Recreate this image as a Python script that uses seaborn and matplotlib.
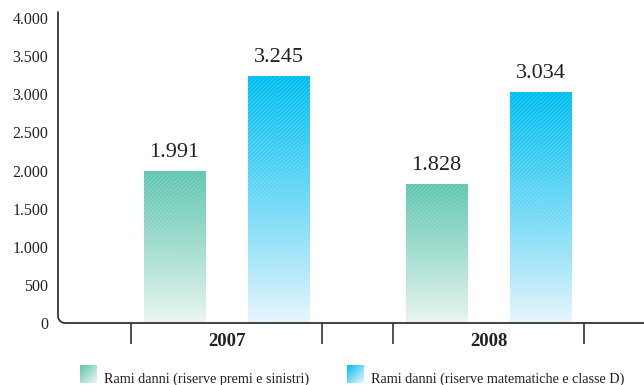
import numpy as np
import pandas as pd
import matplotlib
matplotlib.use("Agg")
import matplotlib.pyplot as plt
from matplotlib.lines import Line2D
import seaborn as sns

# Data
anni = ["2007", "2008"]
riserve_premi_sinistri = [1991, 1828]
riserve_matematiche_d = [3245, 3034]
serie = ["Rami danni (riserve premi e sinistri)",
         "Rami danni (riserve matematiche e classe D)"]
y_ticks = [0, 500, 1000, 1500, 2000, 2500, 3000, 3500, 4000]

df = pd.DataFrame({
    "anno": anni * 2,
    "valore": riserve_premi_sinistri + riserve_matematiche_d,
    "ramo": [serie[0]] * len(anni) + [serie[1]] * len(anni),
})

def fmt(v):
    return f"{v:,.0f}".replace(",", ".")

sns.set_style("white")
plt.rcParams["font.family"] = ["Liberation Serif", "DejaVu Serif"]

GREEN_TOP = np.array([96, 198, 176]) / 255
GREEN_BOT = np.array([236, 246, 242]) / 255
BLUE_TOP = np.array([0, 190, 240]) / 255
BLUE_BOT = np.array([234, 246, 253]) / 255
TEXT = "#222222"

W, H = 644, 385
fig = plt.figure(figsize=(W / 100, H / 100), dpi=100)
ax_l, ax_b, ax_t, ax_r = 58, 323, 12, 644
ax = fig.add_axes([ax_l / W, 1 - ax_b / H, (ax_r - ax_l) / W, (ax_b - ax_t) / H])

sns.barplot(data=df, x="anno", y="valore", hue="ramo", order=anni,
            hue_order=serie, palette=["#60c6b0", "#00bef0"],
            width=0.8, gap=0.417, legend=False, ax=ax, zorder=2)

XLIM = (-0.643, 1.593)
YLIM = (0, 4081)
ax.set_xlim(*XLIM)
ax.set_ylim(*YLIM)


def gradient_image(top, bot, hpx, wpx, stripes=True):
    hpx, wpx = max(int(round(hpx)), 2), max(int(round(wpx)), 2)
    t = np.linspace(1.0, 0.0, hpx)[:, None, None]
    t = t ** 0.9
    img = bot + (top - bot) * t
    img = np.repeat(img, wpx, axis=1)
    if stripes:
        rr, cc = np.mgrid[0:hpx, 0:wpx]
        mask = ((rr + cc) % 4 == 0)[..., None]
        img = np.where(mask, img + (1 - img) * 0.18, img)
    return np.clip(img, 0, 1)


for patch in ax.patches:
    fc = np.array(patch.get_facecolor()[:3])
    is_green = abs(fc[0] - 0x60 / 255) < 0.05
    top, bot = (GREEN_TOP, GREEN_BOT) if is_green else (BLUE_TOP, BLUE_BOT)
    x, y0 = patch.get_x(), patch.get_y()
    w, h = patch.get_width(), patch.get_height()
    p0 = ax.transData.transform((x, y0))
    p1 = ax.transData.transform((x + w, y0 + h))
    img = gradient_image(top, bot, abs(p1[1] - p0[1]), abs(p1[0] - p0[0]))
    im = ax.imshow(img, extent=[x, x + w, y0, y0 + h], aspect="auto",
                   interpolation="nearest", zorder=2.5, origin="upper")
    im.set_clip_path(patch)
    patch.set_facecolor("none")
    patch.set_edgecolor("none")
    ax.annotate(fmt(h), (x + w / 2, y0 + h), xytext=(0, 10),
                textcoords="offset points", ha="center", va="baseline",
                fontsize=16, color=TEXT)

ax.set_xlim(*XLIM)
ax.set_ylim(*YLIM)

# Axes frame: left and bottom lines joined by a rounded corner
for s in ax.spines.values():
    s.set_visible(False)
aw, ah = ax_r - ax_l, ax_b - ax_t
r = 7.0
theta = np.linspace(np.pi, 1.5 * np.pi, 20)
arc_x = (r + r * np.cos(theta)) / aw
arc_y = (r + r * np.sin(theta)) / ah
xs = np.concatenate([[0], arc_x, [1]])
ys = np.concatenate([[1], arc_y, [0]])
ax.add_line(Line2D(xs, ys, transform=ax.transAxes, color="#333333",
                   lw=1.3, clip_on=False, zorder=5))

# Y axis
ax.set_yticks(y_ticks)
ax.set_yticklabels([fmt(v) for v in y_ticks])
ax.tick_params(axis="y", length=0, pad=7, labelsize=11.5, labelcolor=TEXT)
ax.set_ylabel("")

# X axis: year labels with separator ticks around each group
ax.set_xticks([0, 1])
ax.set_xticklabels(anni, fontweight="bold")
ax.tick_params(axis="x", which="major", length=0, pad=7, labelsize=13.5,
               labelcolor=TEXT)
ax.set_xticks([-0.363, 0.363, 0.637, 1.363], minor=True)
ax.tick_params(axis="x", which="minor", direction="out", length=15,
               width=1.2, color="#333333", bottom=True)
ax.set_xlabel("")
ax.grid(False)

# Legend
leg_items = [(80, serie[0], GREEN_TOP, GREEN_BOT), (347, serie[1], BLUE_TOP, BLUE_BOT)]
for lx, label, top, bot in leg_items:
    sq = fig.add_axes([lx / W, 1 - 383 / H, 17 / W, 18 / H])
    # diagonal fade: lighter towards lower right
    rr, cc = np.mgrid[0:18, 0:17]
    d = ((rr / 17 + cc / 16) / 2)[..., None]
    img = top + (bot - top) * d
    sq.imshow(np.clip(img, 0, 1), aspect="auto", interpolation="bilinear")
    sq.set_axis_off()
    fig.text((lx + 24) / W, 1 - 383 / H, label, fontsize=10.2, color=TEXT,
             ha="left", va="baseline")

fig.savefig("out.png", dpi=100)
